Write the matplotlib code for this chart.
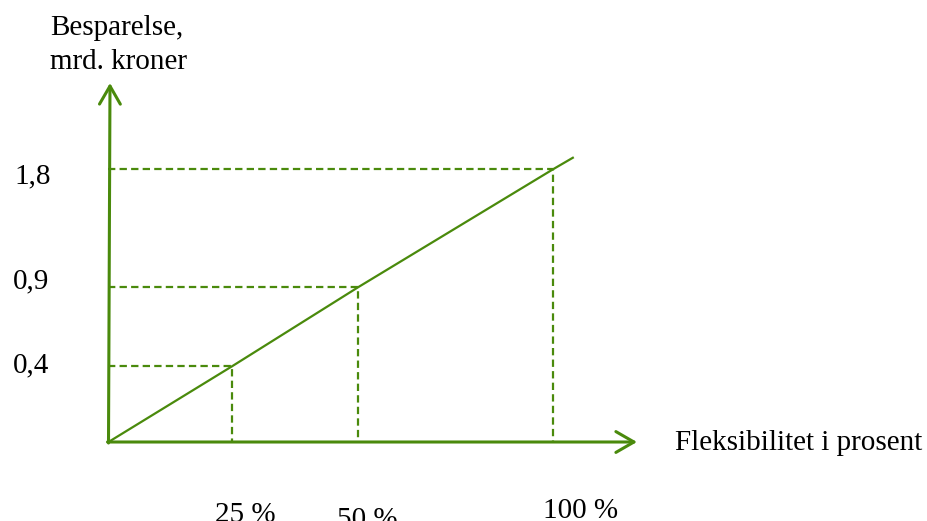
import numpy as np
import matplotlib
matplotlib.use("Agg")
import matplotlib.pyplot as plt

# ---- data ----
flex_pct = [25, 50, 100]                 # x values (percent)
savings = [0.4, 0.9, 1.8]                # y values (bn NOK)
x_labels = ["25 %", "50 %", "100 %"]
y_labels = ["0,4", "0,9", "1,8"]
line_x = [0, 25, 50, 100, 105.2]
line_y = [0, 0.4, 0.9, 1.8, 1.89]
x_title = "Fleksibilitet i prosent"
y_title = ["Besparelse,", "mrd. kroner"]

# ---- layout (schematic, piecewise scales) ----
W, H = 928, 521
GREEN = "#4a8a0c"
FONT = "Liberation Serif"
FS = 21
ORIG_X, ORIG_Y = 108.5, 79.0          # figure pixels, bottom-up
x_knot_val = [0, 25, 50, 100]
x_knot_px = [0, 124, 250, 445]
y_knot_val = [0, 0.4, 0.9, 1.8]
y_knot_px = [0, 76, 155, 273]


def make_pw(vals, pos, offset):
    vals = np.asarray(vals, float)
    pos = np.asarray(pos, float) + offset
    s_lo = (pos[1] - pos[0]) / (vals[1] - vals[0])
    s_hi = (pos[-1] - pos[-2]) / (vals[-1] - vals[-2])

    def f(v):
        v = np.asarray(v, float)
        out = np.interp(v, vals, pos)
        out = np.where(v < vals[0], pos[0] + (v - vals[0]) * s_lo, out)
        out = np.where(v > vals[-1], pos[-1] + (v - vals[-1]) * s_hi, out)
        return out
    return f


def make_inv(vals, pos, offset):
    pos = np.asarray(pos, float) + offset
    return make_pw(pos, vals, 0.0)


fx, ix = make_pw(x_knot_val, x_knot_px, ORIG_X), make_inv(x_knot_val, x_knot_px, ORIG_X)
fy, iy = make_pw(y_knot_val, y_knot_px, ORIG_Y), make_inv(y_knot_val, y_knot_px, ORIG_Y)

fig = plt.figure(figsize=(W / 100, H / 100), dpi=100)
ax = fig.add_axes([0, 0, 1, 1])
ax.set_xscale("function", functions=(fx, ix))
ax.set_yscale("function", functions=(fy, iy))
ax.set_xlim(float(ix(0.0)), float(ix(float(W))))
ax.set_ylim(float(iy(0.0)), float(iy(float(H))))
ax.axis("off")

# axes arrows
arrow_kw = dict(arrowstyle="->,head_length=1.3,head_width=0.75", mutation_scale=10,
                color=GREEN, lw=2.2, shrinkA=0, shrinkB=0)
ax.annotate("", xy=(637, ORIG_Y), xycoords="figure pixels",
            xytext=(ORIG_X - 1, ORIG_Y), textcoords="figure pixels", arrowprops=arrow_kw)
ax.annotate("", xy=(ORIG_X + 1.5, H - 83), xycoords="figure pixels",
            xytext=(ORIG_X, ORIG_Y - 1), textcoords="figure pixels", arrowprops=arrow_kw)

# main line
ax.plot(line_x, line_y, color=GREEN, lw=1.6, solid_capstyle="butt")

# dashed guides
for xv, yv in zip(flex_pct, savings):
    ax.plot([0, xv, xv], [yv, yv, 0], color=GREEN, lw=1.6,
            linestyle=(0, (3.3, 1.9)))

# tick labels
y_off = [(-77, -6), (-77, -1), (-76, -14)]
for yv, lab, (dx, dy) in zip(savings, y_labels, y_off):
    ax.annotate(lab, xy=(0, yv), xytext=(dx, dy), textcoords="offset pixels",
                ha="center", va="baseline", fontsize=FS, family=FONT, color="black")

x_off = [(12.5, -80), (8.5, -85), (27.5, -76)]
for xv, lab, (dx, dy) in zip(flex_pct, x_labels, x_off):
    ax.annotate(lab, xy=(xv, 0), xytext=(dx, dy), textcoords="offset pixels",
                ha="center", va="baseline", fontsize=FS, family=FONT, color="black")

# titles
ax.annotate(x_title, xy=(675, 71), xycoords="figure pixels", ha="left", va="baseline",
            fontsize=FS, family=FONT, color="black")
ax.annotate(y_title[0], xy=(50, 486), xycoords="figure pixels", ha="left", va="baseline",
            fontsize=FS, family=FONT, color="black")
ax.annotate(y_title[1], xy=(50, 452), xycoords="figure pixels", ha="left", va="baseline",
            fontsize=FS, family=FONT, color="black")

fig.savefig("out.png", dpi=100)
